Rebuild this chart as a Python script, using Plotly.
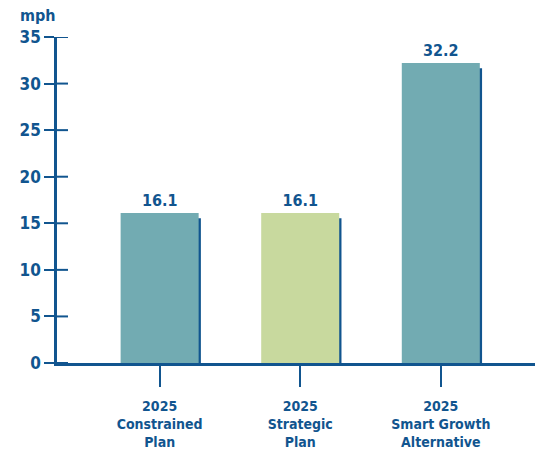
import plotly.graph_objects as go

# Average speed by 2025 scenario
categories = ["2025<br>Constrained<br>Plan", "2025<br>Strategic<br>Plan", "2025<br>Smart Growth<br>Alternative"]
speeds = [16.1, 16.1, 32.2]
bar_colors = ["#72abb2", "#c8d99e", "#72abb2"]
y_ticks = [0, 5, 10, 15, 20, 25, 30, 35]

NAVY = "#11558f"
FONT = "DejaVu Sans Condensed, Liberation Sans Narrow, sans-serif"
x_pos = list(range(len(categories)))
bar_w = 0.555
shadow_drop = 0.55

fig = go.Figure()

# thin dark edge peeking out on the right side of each bar
fig.add_trace(go.Bar(
    x=x_pos, y=[v - shadow_drop for v in speeds],
    width=bar_w, offset=-bar_w / 2 + 0.016,
    marker=dict(color=NAVY, line=dict(width=0)),
    hoverinfo="skip", showlegend=False,
))

fig.add_trace(go.Bar(
    x=x_pos, y=speeds,
    width=bar_w, offset=-bar_w / 2,
    marker=dict(color=bar_colors, line=dict(width=0)),
    text=[f"{v:.1f}" for v in speeds],
    textposition="outside", cliponaxis=False,
    textfont=dict(family=FONT, size=16, color=NAVY, weight="bold"),
    showlegend=False,
))

fig.update_layout(
    width=535, height=453,
    margin=dict(l=57, r=0, t=37, b=90),
    plot_bgcolor="white", paper_bgcolor="white",
    barmode="overlay",
    font=dict(family=FONT, color=NAVY),
    xaxis=dict(
        range=[-0.73, 2.67], tickmode="array", tickvals=x_pos, ticktext=categories,
        showline=True, linecolor=NAVY, linewidth=2.5,
        ticks="outside", ticklen=21, tickwidth=2, tickcolor=NAVY,
        tickfont=dict(family=FONT, size=14, color=NAVY, weight="bold"),
        ticklabelstandoff=7,
        showgrid=False, zeroline=False,
    ),
    yaxis=dict(
        range=[0, 35], tickmode="array", tickvals=y_ticks,
        showline=True, linecolor=NAVY, linewidth=2.5,
        ticks="outside", ticklen=10, tickwidth=2, tickcolor=NAVY,
        tickfont=dict(family=FONT, size=17, color=NAVY, weight="bold"),
        ticklabelstandoff=0,
        showgrid=False, zeroline=False,
    ),
)

# inner half of each y tick, so the marks cross the axis line
for v in y_ticks:
    fig.add_shape(
        type="line", xref="paper", yref="y", xsizemode="pixel", xanchor=0,
        x0=0, x1=11, y0=v, y1=v, line=dict(color=NAVY, width=2), layer="above",
    )

fig.add_annotation(
    text="<b>mph</b>", xref="paper", yref="paper", x=-0.04, y=1.0,
    yshift=22, xanchor="center", yanchor="middle", showarrow=False,
    font=dict(family=FONT, size=16, color=NAVY),
)

fig.write_html("out.html")
